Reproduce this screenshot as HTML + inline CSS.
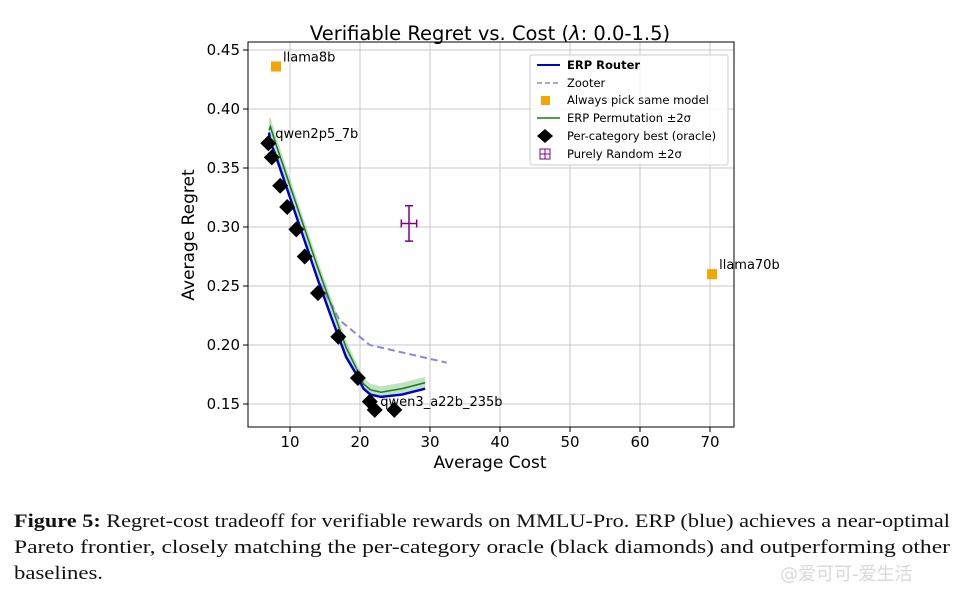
<!DOCTYPE html>
<html><head><meta charset="utf-8"><style>
body{margin:0;background:#fff;width:965px;height:595px;overflow:hidden}
svg text{font-family:"DejaVu Sans","Liberation Sans",sans-serif}
.cap{font-family:"Liberation Serif",serif!important;font-size:19px;fill:#111}
</style></head><body>
<svg id="chart" width="965" height="595" xmlns="http://www.w3.org/2000/svg">
<g id="grid"></g>
<g id="ticks"></g>
<g id="marks"></g>
<rect x="248" y="42" width="486" height="385" fill="none" stroke="#000" stroke-width="1"/>
<text x="490" y="40" font-size="19.5" text-anchor="middle">Verifiable Regret vs. Cost (<tspan font-style="italic">λ</tspan>: 0.0-1.5)</text>
<text x="490" y="468" font-size="17" text-anchor="middle">Average Cost</text>
<text transform="translate(194,235) rotate(-90)" font-size="17" text-anchor="middle">Average Regret</text>
<g>
<rect x="530" y="55" width="198" height="110" fill="#fff" fill-opacity="0.85" stroke="#ccc" rx="2"/>
<line x1="537" y1="65" x2="560" y2="65" stroke="#0000cc" stroke-width="2"/>
<text x="567" y="69" font-size="11.5" font-weight="bold">ERP Router</text>
<line x1="537" y1="83" x2="560" y2="83" stroke="#8888dd" stroke-width="1.5" stroke-dasharray="5,3"/>
<text x="567" y="87" font-size="11.5">Zooter</text>
<rect x="541" y="96" width="9" height="9" fill="#f5a500"/>
<text x="567" y="104" font-size="11.5">Always pick same model</text>
<line x1="537" y1="118" x2="560" y2="118" stroke="#1a7a1a" stroke-width="1.5"/>
<text x="567" y="122" font-size="11.5">ERP Permutation ±2σ</text>
<path d="M545,129 L553,136 L545,143 L537,136Z" fill="#000"/>
<text x="567" y="140" font-size="11.5">Per-category best (oracle)</text>
<rect x="540" y="149" width="10" height="10" fill="none" stroke="#800080"/><line x1="545" y1="149" x2="545" y2="159" stroke="#800080"/><line x1="540" y1="154" x2="550" y2="154" stroke="#800080"/>
<text x="567" y="158" font-size="11.5">Purely Random ±2σ</text>
</g>
<g>
<text class="cap" x="14" y="527" textLength="936" lengthAdjust="spacingAndGlyphs"><tspan font-weight="bold">Figure 5:</tspan> Regret-cost tradeoff for verifiable rewards on MMLU-Pro. ERP (blue) achieves a near-optimal</text>
<text class="cap" x="14" y="553" textLength="936" lengthAdjust="spacingAndGlyphs">Pareto frontier, closely matching the per-category oracle (black diamonds) and outperforming other</text>
<text class="cap" x="14" y="579" textLength="89" lengthAdjust="spacingAndGlyphs">baselines.</text>
<text x="780" y="580" font-size="18" fill="#d8d8d8" font-family="'WenQuanYi Zen Hei',sans-serif">@爱可可-爱生活</text>
</g>
</svg>
<script>
const xTicks=[10,20,30,40,50,60,70];
const yTicks=[0.15,0.20,0.25,0.30,0.35,0.40,0.45];
const oracleX=[6.9,7.4,8.6,9.6,10.9,12.1,14.0,16.9,19.7,21.4,22.1,24.9];
const oracleY=[0.371,0.359,0.335,0.317,0.298,0.275,0.244,0.207,0.172,0.152,0.145,0.145];
const erpX=[7.0,7.2,8,10,12,14,16,18,19.5,20.5,21.5,23,26,29.3];
const erpY=[0.38,0.372,0.36,0.325,0.29,0.255,0.222,0.19,0.175,0.163,0.158,0.156,0.158,0.163];
const permX=[7.0,7.2,8,10,12,14,16,18,19.5,20.5,21.5,23,26,29.3];
const permY=[0.382,0.385,0.37,0.335,0.30,0.265,0.232,0.198,0.18,0.167,0.162,0.160,0.163,0.168];
const permErr=[0.01,0.008,0.007,0.006,0.006,0.006,0.006,0.006,0.005,0.005,0.005,0.005,0.005,0.005];
const zooterX=[7.0,10,14,17.1,21.4,32.4];
const zooterY=[0.375,0.325,0.255,0.221,0.200,0.185];
const singleX=[8.0,70.3];
const singleY=[0.436,0.26];
const singleLabels=["llama8b","llama70b"];
const randomX=[27.0],randomY=[0.303],randomXErr=[1.1],randomYErr=[0.015];
const sx=v=>220+v*7, sy=v=>404-(v-0.15)*1180;
const NS="http://www.w3.org/2000/svg";
function el(t,a,p){const e=document.createElementNS(NS,t);for(const k in a)e.setAttribute(k,a[k]);document.getElementById(p).appendChild(e);return e;}
xTicks.forEach(t=>{const l=el('line',{x1:sx(t),x2:sx(t),y1:42,y2:427,stroke:'#c8c8c8','stroke-width':1},'grid');

const k=el('line',{x1:sx(t),x2:sx(t),y1:427,y2:432,stroke:'#000'},'ticks');

const s=el('text',{x:sx(t),y:447,'font-size':15,'text-anchor':'middle'},'ticks');s.textContent=t;
});
yTicks.forEach(t=>{const l=el('line',{x1:248,x2:734,y1:sy(t),y2:sy(t),stroke:'#c8c8c8','stroke-width':1},'grid');

const k=el('line',{x1:243,x2:248,y1:sy(t),y2:sy(t),stroke:'#000'},'ticks');

const s=el('text',{x:240,y:sy(t)+5,'font-size':15,'text-anchor':'end'},'ticks');s.textContent=t.toFixed(2);
});
let up=permX.map((x,i)=>sx(x)+','+sy(permY[i]+permErr[i])),dn=permX.map((x,i)=>sx(x)+','+sy(permY[i]-permErr[i])).reverse();
const band=el('polygon',{points:up.concat(dn).join(' '),fill:'#2ca02c','fill-opacity':0.3},'marks');

const z=el('polyline',{points:zooterX.map((x,i)=>sx(x)+','+sy(zooterY[i])).join(' '),fill:'none',stroke:'#8888dd','stroke-width':2,'stroke-dasharray':'7,4'},'marks');

const b=el('polyline',{points:erpX.map((x,i)=>sx(x)+','+sy(erpY[i])).join(' '),fill:'none',stroke:'#0000cc','stroke-width':2.5},'marks');

const g=el('polyline',{points:permX.map((x,i)=>sx(x)+','+sy(permY[i])).join(' '),fill:'none',stroke:'#1a7a1a','stroke-width':1.5},'marks');

oracleX.forEach((x,i)=>{const X=sx(x),Y=sy(oracleY[i]);
const d=el('path',{d:`M${X},${Y-8}L${X+8},${Y}L${X},${Y+8}L${X-8},${Y}Z`,fill:'#000'},'marks');
});
singleX.forEach((x,i)=>{const X=sx(x),Y=sy(singleY[i]);
const r=el('rect',{x:X-5,y:Y-5,width:10,height:10,fill:'#f5a500'},'marks');

const t=el('text',{x:X+7,y:Y-5,'font-size':13},'marks');t.textContent=singleLabels[i];
});
[["qwen2p5_7b",7.9,0.372],["qwen3_a22b_235b",22.9,0.145]].forEach(a=>{const t=el('text',{x:sx(a[1]),y:sy(a[2])-4,'font-size':13},'marks');t.textContent=a[0];
});
randomX.forEach((x,i)=>{const X=sx(x),Y=sy(randomY[i]),x0=sx(x-randomXErr[i]),x1=sx(x+randomXErr[i]),y0=sy(randomY[i]+randomYErr[i]),y1=sy(randomY[i]-randomYErr[i]);
const p=el('path',{d:`M${x0},${Y}H${x1}M${X},${y0}V${y1}M${X-4},${y0}H${X+4}M${X-4},${y1}H${X+4}M${x0},${Y-4}V${Y+4}M${x1},${Y-4}V${Y+4}`,stroke:'#800080','stroke-width':1.5,fill:'none'},'marks');
});
</script>
</body></html>
